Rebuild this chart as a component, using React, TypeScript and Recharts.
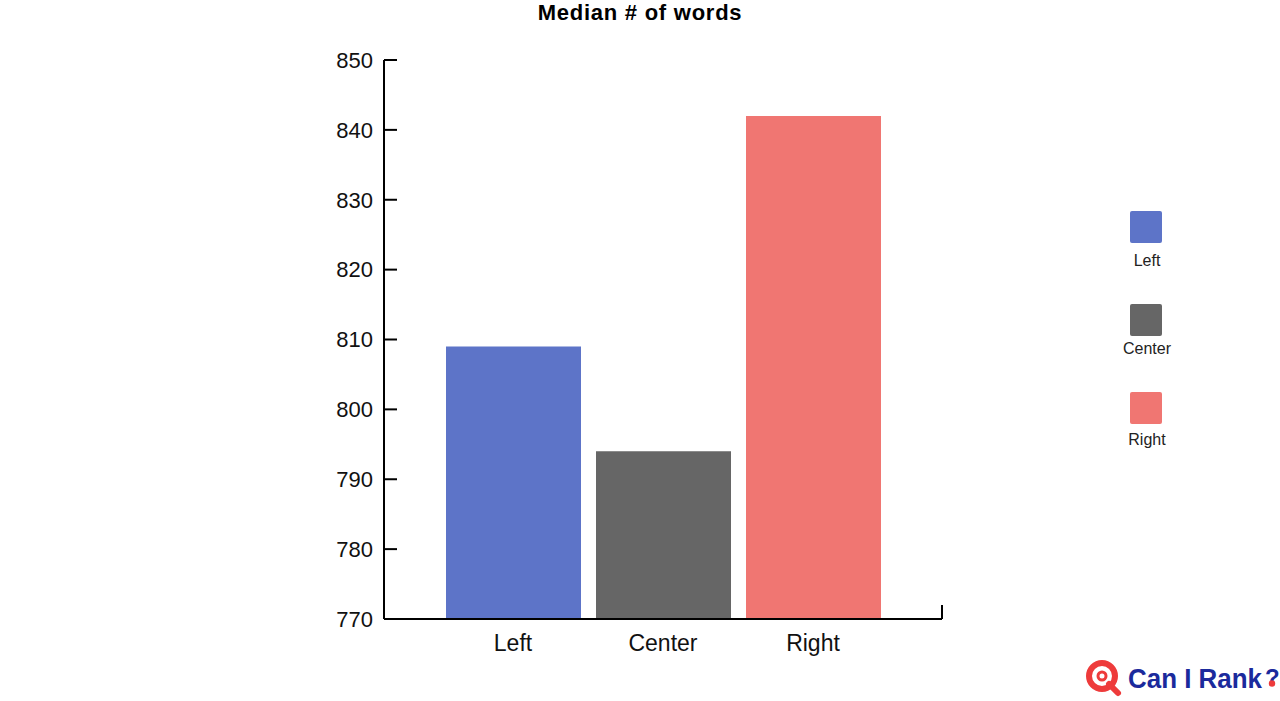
import { BarChart, Bar, XAxis, YAxis, Cell } from "recharts"

// values
const categories = ["Left", "Center", "Right"]
const medianWords = [809, 794, 842]
const barColors = ["#5D74C8", "#666666", "#F07672"]
const yTicks = [770, 780, 790, 800, 810, 820, 830, 840, 850]

const data = categories.map((name, i) => ({ name, words: medianWords[i] }))

const FONT = "'Liberation Sans', Arial, Helvetica, sans-serif"

const W = 1280
const H = 701
const margin = { top: 60, right: 338, left: 324, bottom: 42 }
const Y_AXIS_W = 60
const X_AXIS_H = 40
const PLOT_LEFT = margin.left + Y_AXIS_W
const PLOT_RIGHT = W - margin.right
const PLOT_BOTTOM = H - margin.bottom - X_AXIS_H

// legend item tops (square) and label centres, as placed in the reference
const legendTops = [211, 304, 392]
const labelCenters = [261, 349, 440]

// y tick: label on the left, tick mark pointing into the plot
function YTick(props: any) {
  const { x, y, payload } = props
  return (
    <g>
      <line x1={PLOT_LEFT} x2={PLOT_LEFT + 13} y1={y} y2={y} stroke="#000" strokeWidth={2} />
      <text x={x} y={y} dy="0.355em" textAnchor="end" fontSize={22} fontFamily={FONT} fill="#111">
        {payload.value}
      </text>
    </g>
  )
}

// x tick: label only, plus the little upright mark at the end of the axis
function XTick(props: any) {
  const { x, y, payload, index } = props
  return (
    <g>
      <text x={x} y={y} dy="0.71em" textAnchor="middle" fontSize={23} fontFamily={FONT} fill="#111">
        {payload.value}
      </text>
      {index === categories.length - 1 && (
        <line x1={PLOT_RIGHT} x2={PLOT_RIGHT} y1={PLOT_BOTTOM} y2={PLOT_BOTTOM - 14} stroke="#000" strokeWidth={2} />
      )}
    </g>
  )
}

function LegendBox() {
  return (
    <div style={{ position: "absolute", left: 0, top: 0, fontFamily: FONT }}>
      {categories.map((c, i) => (
        <div key={c}>
          <div
            style={{
              position: "absolute",
              left: 1130,
              top: legendTops[i],
              width: 32,
              height: 32,
              background: barColors[i],
              borderRadius: 2,
            }}
          />
          <div
            style={{
              position: "absolute",
              left: 1097,
              width: 100,
              top: labelCenters[i] - 10,
              height: 20,
              lineHeight: "20px",
              textAlign: "center",
              fontSize: 16,
              color: "#222",
            }}
          >
            {c}
          </div>
        </div>
      ))}
    </div>
  )
}

function Logo() {
  return (
    <svg width={200} height={50} style={{ position: "absolute", left: 1080, top: 653 }}>
      <circle cx={22} cy={23} r={13} fill="none" stroke="#EE3B3B" strokeWidth={6} />
      <circle cx={22} cy={23} r={4} fill="none" stroke="#EE3B3B" strokeWidth={3} />
      <line x1={29} y1={31} x2={38} y2={40} stroke="#EE3B3B" strokeWidth={6} strokeLinecap="round" />
      <text
        x={48}
        y={35}
        fontFamily={FONT}
        fontWeight="bold"
        fontSize={27}
        fill="#1B2A9C"
        textLength={134}
        lengthAdjust="spacingAndGlyphs"
      >
        Can I Rank
      </text>
      <text x={185} y={33} fontFamily={FONT} fontWeight="bold" fontSize={24} fill="#1B2A9C">
        ?
      </text>
      <circle cx={192} cy={30.5} r={3.2} fill="#EE3B3B" />
    </svg>
  )
}

export default function App() {
  return (
    <div style={{ position: "absolute", left: 0, top: 0, width: W, height: H, background: "#fff" }}>
      <div
        style={{
          position: "absolute",
          top: 0,
          width: W,
          textAlign: "center",
          fontFamily: FONT,
          fontWeight: "bold",
          fontSize: 22,
          letterSpacing: 0.75,
          lineHeight: "26px",
          color: "#000",
        }}
      >
        Median # of words
      </div>
      <BarChart width={W} height={H} data={data} margin={margin}>
        <XAxis
          dataKey="name"
          height={X_AXIS_H}
          padding={{ left: 54, right: 54 }}
          axisLine={{ stroke: "#000", strokeWidth: 2 }}
          tickLine={false}
          tick={<XTick />}
          tickMargin={10}
        />
        <YAxis
          width={Y_AXIS_W}
          domain={[770, 850]}
          ticks={yTicks}
          allowDataOverflow
          axisLine={{ stroke: "#000", strokeWidth: 2 }}
          tickLine={false}
          tick={<YTick />}
          tickMargin={5}
        />
        <Bar dataKey="words" barSize={135} isAnimationActive={false}>
          {data.map((d, i) => (
            <Cell key={d.name} fill={barColors[i]} />
          ))}
        </Bar>
      </BarChart>
      <LegendBox />
      <Logo />
    </div>
  )
}
